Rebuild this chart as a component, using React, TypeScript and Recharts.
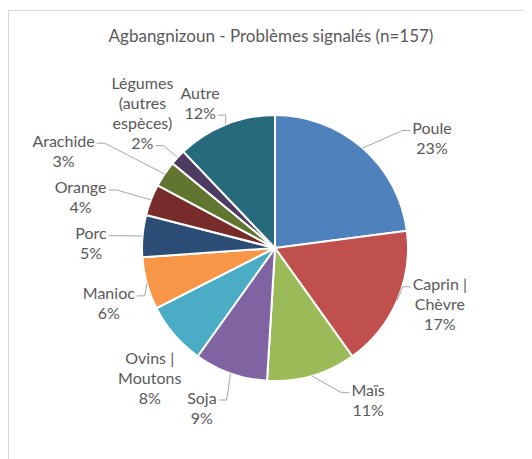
import React from 'react';
import { PieChart, Pie, Cell } from 'recharts';

// ---- data ----
const title = 'Agbangnizoun - Problèmes signalés (n=157)';
const categories = [
  'Poule',
  'Caprin | Chèvre',
  'Maïs',
  'Soja',
  'Ovins | Moutons',
  'Manioc',
  'Porc',
  'Orange',
  'Arachide',
  'Légumes (autres espèces)',
  'Autre',
];
const counts = [36, 27, 17, 14, 12, 10, 8, 6, 5, 3, 19];
const colors = ['#4F81BD', '#C0504D', '#9BBB59', '#8064A2', '#4BACC6', '#F79646', '#2C4D75', '#772C2A', '#5F7530', '#4D3B62', '#276A7C'];

// ---- label layout (Excel best-fit placement) ----
const labelShift = [13.6, -4.8, -15.5, 5.2, -5.2, -2.8, -3.5, -6.5, -9, 2.6, -5.4];
const labelGap = [59, 41, 45, 42, 47, 42, 51, 68, 100, 56.5, 31];
const leaderAttach = ['first', 'first', 'first', 'first', 'none', 'first', 'first', 'first', 'first', 'last', 'last'];

const total = counts.reduce((a, b) => a + b, 0);
const data = categories.map((name, i) => ({ name, value: counts[i] }));

const FONT = 'Lato, "Liberation Sans", sans-serif';
const LABEL_SIZE = 16;
const LH = 20;
const TEXT = '#595959';

let ctx: CanvasRenderingContext2D | null = null;
function measure(text: string, size: number) {
  if (!ctx) ctx = document.createElement('canvas').getContext('2d');
  if (!ctx) return text.length * size * 0.5;
  ctx.font = `${size}px Lato`;
  return ctx.measureText(text).width;
}
function wrap(text: string, maxW: number) {
  const words = text.split(' ');
  const lines: string[] = [];
  let cur = '';
  for (const w of words) {
    const t = cur ? cur + ' ' + w : w;
    if (cur && measure(t, LABEL_SIZE) > maxW) {
      lines.push(cur);
      cur = w;
    } else cur = t;
  }
  if (cur) lines.push(cur);
  return lines;
}

const RAD = Math.PI / 180;

const renderLabel = (props: any) => {
  const { cx, cy, midAngle, outerRadius, index } = props;
  const theta = 90 - midAngle;
  const ang = theta + labelShift[index];
  const dist = outerRadius + labelGap[index];
  const lx = cx + dist * Math.sin(ang * RAD);
  const ly = cy - dist * Math.cos(ang * RAD);
  const pct = Math.round((counts[index] / total) * 100);
  const lines = [...wrap(categories[index], 84), `${pct}%`];
  const top = ly - ((lines.length - 1) * LH) / 2;
  const ex = cx + outerRadius * Math.sin(theta * RAD);
  const ey = cy - outerRadius * Math.cos(theta * RAD);
  let leader = null;
  const mode = leaderAttach[index];
  if (mode !== 'none') {
    const li = mode === 'first' ? 0 : lines.length - 1;
    const w = measure(lines[li], LABEL_SIZE);
    const y = top + li * LH + 3;
    const left = lx < cx;
    const ax = left ? lx + w / 2 + 2 : lx - w / 2 - 2;
    const bx = left ? ax + 8 : ax - 8;
    leader = (
      <polyline
        points={`${ax},${y} ${bx},${y} ${ex},${ey}`}
        fill="none"
        stroke="#A6A6A6"
        strokeWidth={1}
      />
    );
  }
  return (
    <g key={`lbl-${index}`}>
      {leader}
      {lines.map((t, i) => (
        <text
          key={i}
          x={lx}
          y={top + i * LH}
          textAnchor="middle"
          dominantBaseline="central"
          fill={TEXT}
          fontSize={LABEL_SIZE}
          fontFamily={FONT}
        >
          {t}
        </text>
      ))}
    </g>
  );
};

export default function App() {
  return (
    <div
      style={{
        marginTop: 2,
        width: 524,
        height: 449,
        boxSizing: 'border-box',
        borderTop: '1px solid #D9D9D9',
        borderLeft: '1px solid #D9D9D9',
        position: 'relative',
        background: '#fff',
      }}
    >
      <style>{`body{overflow:hidden}`}</style>
      <div
        style={{
          position: 'absolute',
          left: 0,
          top: 14,
          width: 524,
          textAlign: 'center',
          fontFamily: FONT,
          fontSize: 17,
          lineHeight: '22px',
          color: TEXT,
        }}
      >
        {title}
      </div>
      <PieChart width={523} height={448} margin={{ top: 0, right: 0, bottom: 0, left: 0 }}>
        <Pie
          data={data}
          dataKey="value"
          nameKey="name"
          cx={266}
          cy={237}
          outerRadius={133}
          startAngle={90}
          endAngle={-270}
          stroke="#FFFFFF"
          strokeWidth={2}
          label={renderLabel}
          labelLine={false}
          isAnimationActive={false}
        >
          {data.map((d, i) => (
            <Cell key={d.name} fill={colors[i]} />
          ))}
        </Pie>
      </PieChart>
    </div>
  );
}
